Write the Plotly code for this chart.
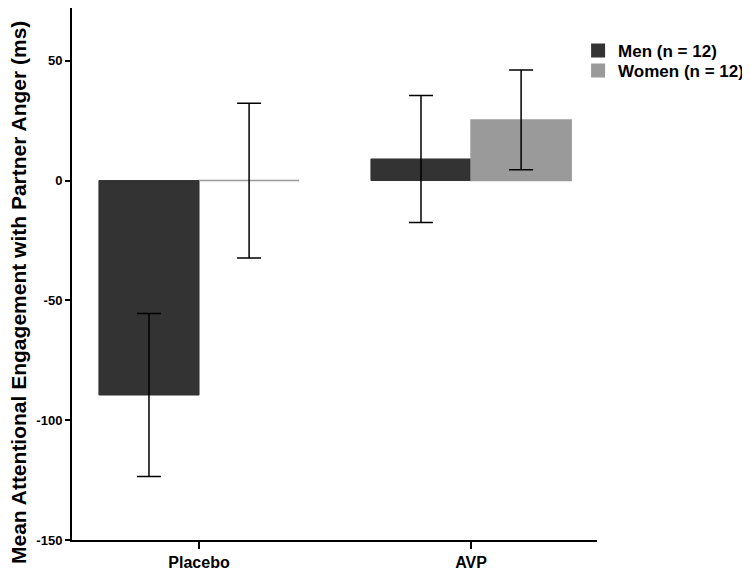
import plotly.graph_objects as go

categories = ["Placebo", "AVP"]
men_means = [-89.5, 9.0]
men_err = [34.0, 26.5]
women_means = [0.0, 25.3]
women_err = [32.3, 20.8]
y_ticks = [-150, -100, -50, 0, 50]
y_tick_labels = ["-150", "-100", "-50", "0", "50"]
y_title = "Mean Attentional Engagement with Partner Anger (ms)"

legend_font = dict(size=17, family="Liberation Sans, Arial, sans-serif", weight="bold")

fig = go.Figure()
fig.add_trace(go.Bar(
    x=[0, 1], y=men_means, name="Men (n = 12)", offset=-0.368, width=0.368,
    marker=dict(color="#333333", line=dict(color="#333333", width=1)),
    error_y=dict(type="data", array=men_err, color="black", thickness=1.5, width=12),
    legend="legend",
))
fig.add_trace(go.Bar(
    x=[0, 1], y=women_means, name="Women (n = 12)", offset=0.0, width=0.368,
    marker=dict(color="#9a9a9a", line=dict(color="#9a9a9a", width=1.5)),
    error_y=dict(type="data", array=women_err, color="black", thickness=1.5, width=12),
    legend="legend2",
))

fig.add_annotation(
    text=y_title, textangle=-90, xref="paper", yref="paper",
    x=-0.103, y=0.466, xanchor="center", yanchor="middle", showarrow=False,
    font=dict(size=21, weight="bold", family="Liberation Sans, Arial, sans-serif"),
)

fig.update_layout(
    width=742, height=566,
    margin=dict(l=64, r=153, t=0, b=34, autoexpand=False),
    paper_bgcolor="white", plot_bgcolor="white",
    font=dict(family="Liberation Sans, Arial, sans-serif", color="black"),
    barmode="overlay",
    showlegend=True,
    legend=dict(x=0.964, y=0.953, xanchor="left", yanchor="top", font=legend_font,
                itemsizing="constant", bgcolor="rgba(0,0,0,0)"),
    legend2=dict(x=0.964, y=0.9155, xanchor="left", yanchor="top", font=legend_font,
                 itemsizing="constant", bgcolor="rgba(0,0,0,0)"),
    xaxis=dict(
        range=[-0.467, 1.463], tickvals=[0, 1], ticktext=categories,
        showline=True, linecolor="black", linewidth=2,
        ticks="outside", ticklen=7, tickwidth=1.5, tickcolor="black",
        tickfont=dict(size=16, weight="bold"), showgrid=False, zeroline=False,
        automargin=False,
    ),
    yaxis=dict(
        range=[-150, 72], tickvals=y_ticks, ticktext=y_tick_labels,
        showline=True, linecolor="black", linewidth=2,
        ticks="outside", ticklen=5, tickwidth=1.5, tickcolor="black",
        tickfont=dict(size=13, weight="bold"), showgrid=False, zeroline=False,
        automargin=False,
    ),
)

fig.write_html("out.html")
